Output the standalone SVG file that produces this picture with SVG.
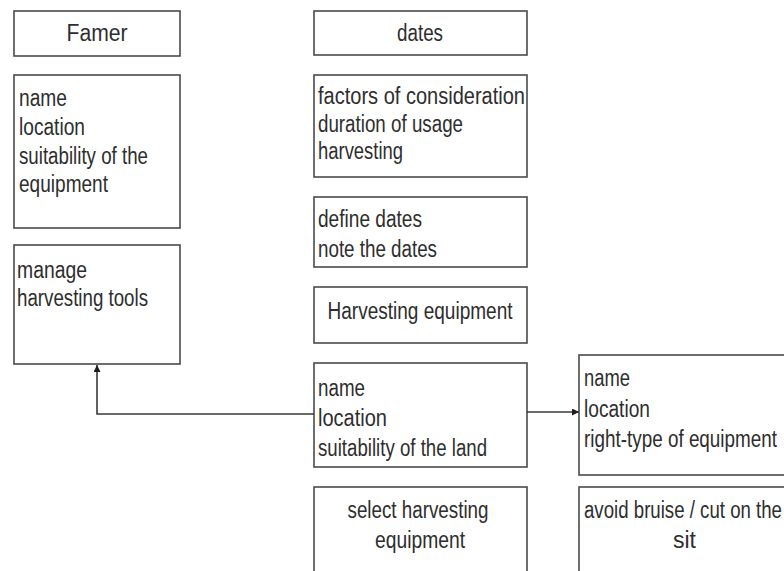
<svg xmlns="http://www.w3.org/2000/svg" width="784" height="571" viewBox="0 0 784 571">
  <defs>
    <style>
      .box { fill: #ffffff; stroke: #4a4a4a; stroke-width: 1.6; }
      .lbl { font-family: "Liberation Sans", Arial, sans-serif; font-size: 23px; fill: #2e2e2e; }
      .mid { text-anchor: middle; }
      .wire { fill: none; stroke: #3a3a3a; stroke-width: 1.6; }
    </style>
    <marker id="arrow" viewBox="0 0 10 10" refX="10" refY="5" markerWidth="9" markerHeight="7" markerUnits="userSpaceOnUse" orient="auto">
      <path d="M0,0 L10,5 L0,10 z" fill="#1e1e1e"/>
    </marker>
  </defs>
  <rect width="784" height="571" fill="#ffffff"/>

  <!-- left column -->
  <g id="farmer">
    <rect class="box" x="14" y="11" width="166" height="45"/>
    <text class="lbl mid" x="97" y="41" textLength="61" lengthAdjust="spacingAndGlyphs">Famer</text>
  </g>
  <g id="farmer-attributes">
    <rect class="box" x="14" y="75" width="166" height="153"/>
    <text class="lbl" x="19" y="106" textLength="48" lengthAdjust="spacingAndGlyphs">name</text>
    <text class="lbl" x="19" y="135" textLength="66" lengthAdjust="spacingAndGlyphs">location</text>
    <text class="lbl" x="19" y="164" textLength="129" lengthAdjust="spacingAndGlyphs">suitability of the</text>
    <text class="lbl" x="19" y="192" textLength="89" lengthAdjust="spacingAndGlyphs">equipment</text>
  </g>
  <g id="farmer-operations">
    <rect class="box" x="14" y="245" width="166" height="119"/>
    <text class="lbl" x="17" y="278" textLength="70" lengthAdjust="spacingAndGlyphs">manage</text>
    <text class="lbl" x="17" y="306" textLength="131" lengthAdjust="spacingAndGlyphs">harvesting tools</text>
  </g>

  <!-- middle column -->
  <g id="dates">
    <rect class="box" x="314" y="11" width="213" height="44"/>
    <text class="lbl mid" x="420" y="41" textLength="46" lengthAdjust="spacingAndGlyphs">dates</text>
  </g>
  <g id="dates-attributes">
    <rect class="box" x="314" y="75" width="213" height="102"/>
    <text class="lbl" x="318" y="104" textLength="207" lengthAdjust="spacingAndGlyphs">factors of consideration</text>
    <text class="lbl" x="318" y="132" textLength="145" lengthAdjust="spacingAndGlyphs">duration of usage</text>
    <text class="lbl" x="318" y="159" textLength="85" lengthAdjust="spacingAndGlyphs">harvesting</text>
  </g>
  <g id="dates-operations">
    <rect class="box" x="314" y="197" width="213" height="70"/>
    <text class="lbl" x="318" y="227" textLength="104" lengthAdjust="spacingAndGlyphs">define dates</text>
    <text class="lbl" x="318" y="257" textLength="119" lengthAdjust="spacingAndGlyphs">note the dates</text>
  </g>
  <g id="harvesting-equipment">
    <rect class="box" x="314" y="287" width="213" height="56"/>
    <text class="lbl mid" x="420" y="319" textLength="185" lengthAdjust="spacingAndGlyphs">Harvesting equipment</text>
  </g>
  <g id="equipment-attributes">
    <rect class="box" x="314" y="363" width="213" height="104"/>
    <text class="lbl" x="318" y="396" textLength="47" lengthAdjust="spacingAndGlyphs">name</text>
    <text class="lbl" x="318" y="426" textLength="69" lengthAdjust="spacingAndGlyphs">location</text>
    <text class="lbl" x="318" y="456" textLength="169" lengthAdjust="spacingAndGlyphs">suitability of the land</text>
  </g>
  <g id="equipment-operations">
    <rect class="box" x="314" y="487" width="213" height="100"/>
    <text class="lbl mid" x="418" y="518" textLength="141" lengthAdjust="spacingAndGlyphs">select harvesting</text>
    <text class="lbl mid" x="420" y="548" textLength="90" lengthAdjust="spacingAndGlyphs">equipment</text>
  </g>

  <!-- right column -->
  <g id="site-attributes">
    <rect class="box" x="579" y="355" width="220" height="120"/>
    <text class="lbl" x="584" y="386" textLength="46" lengthAdjust="spacingAndGlyphs">name</text>
    <text class="lbl" x="584" y="417" textLength="66" lengthAdjust="spacingAndGlyphs">location</text>
    <text class="lbl" x="584" y="447" textLength="193" lengthAdjust="spacingAndGlyphs">right-type of equipment</text>
  </g>
  <g id="site-operations">
    <rect class="box" x="579" y="487" width="220" height="100"/>
    <text class="lbl" x="584" y="518" textLength="198" lengthAdjust="spacingAndGlyphs">avoid bruise / cut on the</text>
    <text class="lbl" x="673" y="548" textLength="23" lengthAdjust="spacingAndGlyphs">sit</text>
  </g>

  <!-- connectors -->
  <g id="connectors">
    <polyline class="wire" points="314,414 97,414 97,365" marker-end="url(#arrow)"/>
    <line class="wire" x1="527" y1="412" x2="579" y2="412" marker-end="url(#arrow)"/>
  </g>
</svg>
